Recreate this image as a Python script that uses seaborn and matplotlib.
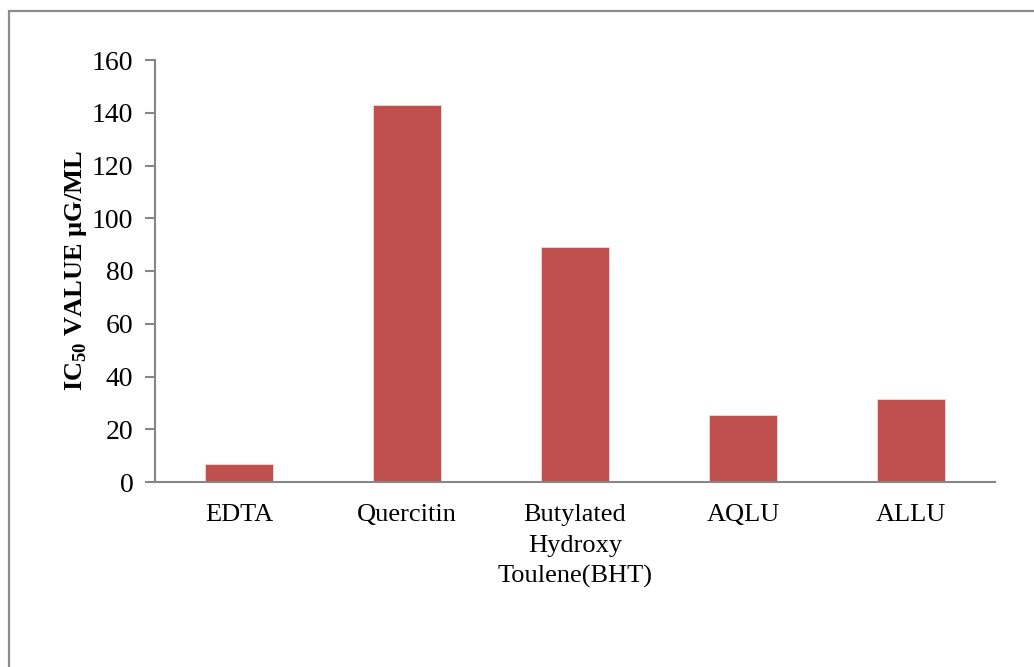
import matplotlib
matplotlib.use("Agg")
import matplotlib.pyplot as plt
from matplotlib.lines import Line2D
import seaborn as sns
import pandas as pd

# IC50 values per compound (µg/mL)
compounds = ["EDTA", "Quercitin", "Butylated\nHydroxy\nToulene(BHT)", "AQLU", "ALLU"]
ic50_values = [7.0, 143.0, 89.0, 25.3, 31.5]
y_ticks = [0, 20, 40, 60, 80, 100, 120, 140, 160]

sns.set_theme(style="white")
plt.rcParams["font.family"] = ["Liberation Serif", "DejaVu Serif"]
plt.rcParams["mathtext.fontset"] = "custom"
plt.rcParams["mathtext.rm"] = "Liberation Serif"
plt.rcParams["mathtext.bf"] = "Liberation Serif:bold"

df = pd.DataFrame({"compound": compounds, "ic50": ic50_values})

fig = plt.figure(figsize=(10.34, 6.67), dpi=100)
ax = fig.add_axes([155 / 1034, 1 - 482 / 667, 840 / 1034, 422 / 667])

sns.barplot(data=df, x="compound", y="ic50", color="#C0504D", saturation=1,
            width=0.4, edgecolor="#F2D9D8", linewidth=0.6, ax=ax)

grey = "#868686"
ax.set_xlim(-0.5, len(compounds) - 0.5)
ax.set_ylim(0, 160)
ax.set_yticks(y_ticks)
ax.set_yticklabels([str(t) for t in y_ticks], fontsize=20, color="black")

# category labels centred under bars, tick marks on category boundaries
ax.set_xticks(range(len(compounds)))
ax.set_xticklabels(compounds, fontsize=19, color="black", linespacing=1.49)
ax.set_xticks([i - 0.5 for i in range(len(compounds) + 1)], minor=True)
ax.tick_params(axis="x", which="major", length=0, pad=16)
ax.tick_params(axis="x", which="minor", length=7, width=1.5, color=grey, direction="out")
ax.tick_params(axis="y", which="major", length=7, width=1.5, color=grey, direction="out", pad=8.5, left=True)

for side in ["top", "right"]:
    ax.spines[side].set_visible(False)
for side in ["left", "bottom"]:
    ax.spines[side].set_color(grey)
    ax.spines[side].set_linewidth(1.5)

ax.set_xlabel("")
ax.set_ylabel(r"IC$_{\mathbf{50}}$ VALUE µG/ML", fontsize=19, fontweight="bold",
              color="black", labelpad=2)

# chart-area frame (left and top edges)
frame_color = "#8C8C8C"
fig.add_artist(Line2D([8.5 / 1034, 8.5 / 1034], [0, 1 - 11 / 667], transform=fig.transFigure,
                      color=frame_color, linewidth=1.6))
fig.add_artist(Line2D([8.5 / 1034, 1], [1 - 11 / 667, 1 - 11 / 667], transform=fig.transFigure,
                      color=frame_color, linewidth=1.6))

fig.savefig("out.png", dpi=100)
